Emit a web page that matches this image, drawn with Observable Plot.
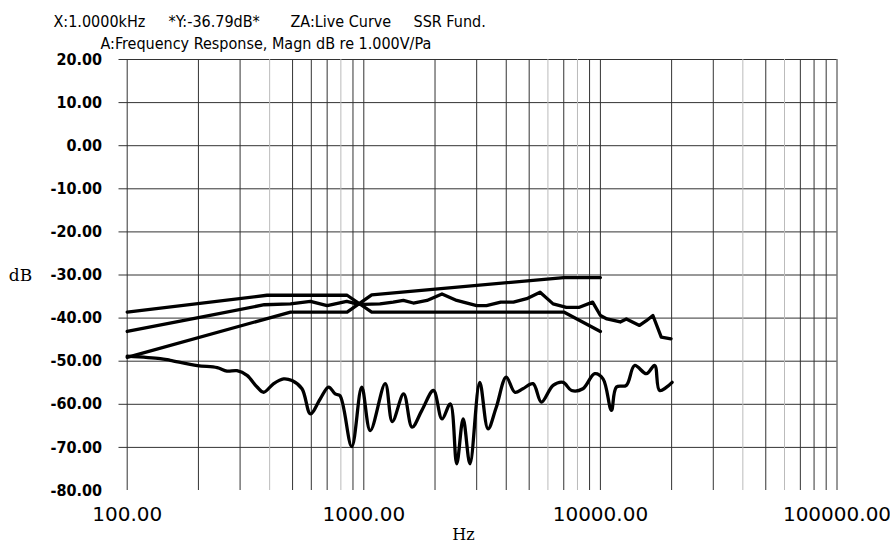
<!DOCTYPE html>
<html>
<head>
<meta charset="utf-8">
<script src="https://cdn.jsdelivr.net/npm/d3@7"></script>
<script src="https://cdn.jsdelivr.net/npm/@observablehq/plot@0.6"></script>
<style>
  html, body { margin: 0; padding: 0; background: #fff; }
  #chart svg { display: block; }
</style>
</head>
<body>
<div id="chart"></div>
<script>
// ---- data ----
const headerLine1 = ["X:1.0000kHz", "*Y:-36.79dB*", "ZA:Live Curve", "SSR Fund."];
const headerLine2 = "A:Frequency Response, Magn dB re 1.000V/Pa";
const yLabel = "dB";
const xLabel = "Hz";

const yTicks = [20, 10, 0, -10, -20, -30, -40, -50, -60, -70, -80];
const yGrid = [20, 10, 0, -10, -20, -30, -40, -50, -60, -70];
const xLabels = [100, 1000, 10000, 100000];
const xGrid = [100, 200, 300, 400, 500, 600, 700, 800, 900,
  1000, 2000, 3000, 4000, 5000, 6000, 7000, 8000, 9000,
  10000, 20000, 30000, 40000, 50000, 60000, 70000, 80000, 90000, 100000];

// limit line A (upper below 1 kHz, lower above)
const limAFreq = [100, 390, 850, 1080, 7000, 10000];
const limADb   = [-38.6, -34.7, -34.7, -38.6, -38.6, -43.1];
// limit line B (lower below 1 kHz, upper above)
const limBFreq = [100, 490, 850, 1080, 7000, 10000];
const limBDb   = [-49.1, -38.6, -38.6, -34.6, -30.6, -30.6];

// live curve (fundamental response)
const liveFreq = [100, 200, 380, 490, 595, 700, 847, 935, 1000, 1170, 1330, 1470, 1620, 1850,
  2140, 2470, 3000, 3300, 3790, 4290, 4880, 5560, 6310, 7180, 8150, 9270, 10000, 10660,
  12130, 12870, 14630, 15640, 16670, 18080, 19880];
const liveDb = [-43.1, -39.9, -36.9, -36.7, -36.1, -37.1, -36.1, -36.7, -36.8, -36.7, -36.3, -35.9, -36.5, -35.9,
  -34.4, -35.9, -37.1, -37.1, -36.3, -36.3, -35.5, -34.0, -36.7, -37.5, -37.5, -36.3, -39.4, -40.2,
  -40.9, -40.2, -41.7, -40.6, -39.4, -44.4, -44.8];

// lower curve (distortion / noise)
const lowFreq = [100, 138, 152, 198, 240, 264, 291, 321, 354, 377, 416, 458, 497, 548, 595, 655,
  710, 757, 793, 889, 980, 1065, 1232, 1320, 1474, 1600, 1760, 1970, 2140, 2320, 2470, 2630,
  2810, 3090, 3350, 3630, 4000, 4350, 4700, 5190, 5630, 6310, 6960, 7550, 8430, 9460, 10260,
  11130, 11690, 12870, 13950, 15640, 16960, 17800, 20100];
const lowDb = [-48.8, -49.4, -49.8, -51.0, -51.5, -52.3, -52.2, -53.3, -56.0, -57.2, -55.2, -54.1, -54.5, -56.4, -62.2, -58.7,
  -56.0, -57.6, -58.0, -69.8, -56.0, -66.1, -55.2, -64.0, -57.6, -65.3, -61.4, -56.8, -63.4, -59.9, -73.8, -63.4,
  -73.8, -54.9, -65.7, -60.7, -53.7, -57.2, -56.4, -55.2, -59.5, -55.6, -54.9, -56.8, -56.4, -52.9, -54.1,
  -61.4, -56.0, -55.6, -51.0, -52.9, -51.0, -56.8, -54.9];

// ---- build ----
const toRows = (fs, ds) => fs.map((f, i) => ({f, db: ds[i]}));
const limA = toRows(limAFreq, limADb);
const limB = toRows(limBFreq, limBDb);
const live = toRows(liveFreq, liveDb);
const low = toRows(lowFreq, lowDb);

const lightGrid = new Set([400, 800, 6000, 8000, 40000, 60000]);
const fmt2 = d => d.toFixed(2);
const headerOffsets = [-65.5, 49.5, 171.5, 294.5];
const headerFont = "DejaVu Sans Condensed, DejaVu Sans, sans-serif";

const curveStyle = {x: "f", y: "db", stroke: "#000", strokeWidth: 3.3, strokeLinejoin: "round", strokeLinecap: "round"};

const chart = Plot.plot({
  width: 890,
  height: 544,
  marginLeft: 118.5,
  marginRight: 53.5,
  marginTop: 59,
  marginBottom: 54,
  x: {type: "log", domain: [100, 100000], insetLeft: 8.2, axis: null},
  y: {domain: [-80, 20], axis: null},
  style: {background: "#fff", color: "#000"},
  marks: [
    Plot.ruleY(yGrid, {y: d => d, stroke: "#333", strokeWidth: 1}),
    Plot.ruleX(xGrid, {x: d => d, stroke: d => lightGrid.has(d) ? "#bbb" : "#333", strokeWidth: 1}),
    Plot.line(limA, curveStyle),
    Plot.line(limB, curveStyle),
    Plot.line(live, curveStyle),
    Plot.line(low, {...curveStyle, curve: "catmull-rom"}),
    // y tick labels
    Plot.text(yTicks, {y: d => d, frameAnchor: "left", text: fmt2, textAnchor: "end", dx: -17,
      fontFamily: headerFont, fontWeight: "bold", fontSize: 16, fill: "#000"}),
    // x tick labels
    Plot.text(xLabels, {x: d => d, frameAnchor: "bottom", text: fmt2, textAnchor: "middle", lineAnchor: "bottom", dy: 30,
      fontFamily: "DejaVu Sans, sans-serif", fontSize: 20, fill: "#000"}),
    // axis names
    Plot.text([yLabel], {frameAnchor: "top-left", text: d => d, textAnchor: "start", lineAnchor: "bottom",
      dx: -110.2, dy: 221, fontFamily: "DejaVu Serif, serif", fontSize: 17, fill: "#000"}),
    Plot.text([xLabel], {frameAnchor: "bottom", text: d => d, textAnchor: "middle", lineAnchor: "bottom",
      dx: -14.5, dy: 49, fontFamily: "DejaVu Serif, serif", fontSize: 16, fill: "#000"}),
    // header lines
    ...headerLine1.map((t, i) => Plot.text([t], {frameAnchor: "top-left", text: d => d, textAnchor: "start", lineAnchor: "bottom",
      dx: headerOffsets[i], dy: -32.3, fontFamily: headerFont, fontSize: 16, fill: "#000"})),
    Plot.text([headerLine2], {frameAnchor: "top-left", text: d => d, textAnchor: "start", lineAnchor: "bottom",
      dx: -18.5, dy: -11, fontFamily: headerFont, fontSize: 16, fill: "#000"})
  ]
});
document.getElementById("chart").appendChild(chart);
</script>
</body>
</html>
